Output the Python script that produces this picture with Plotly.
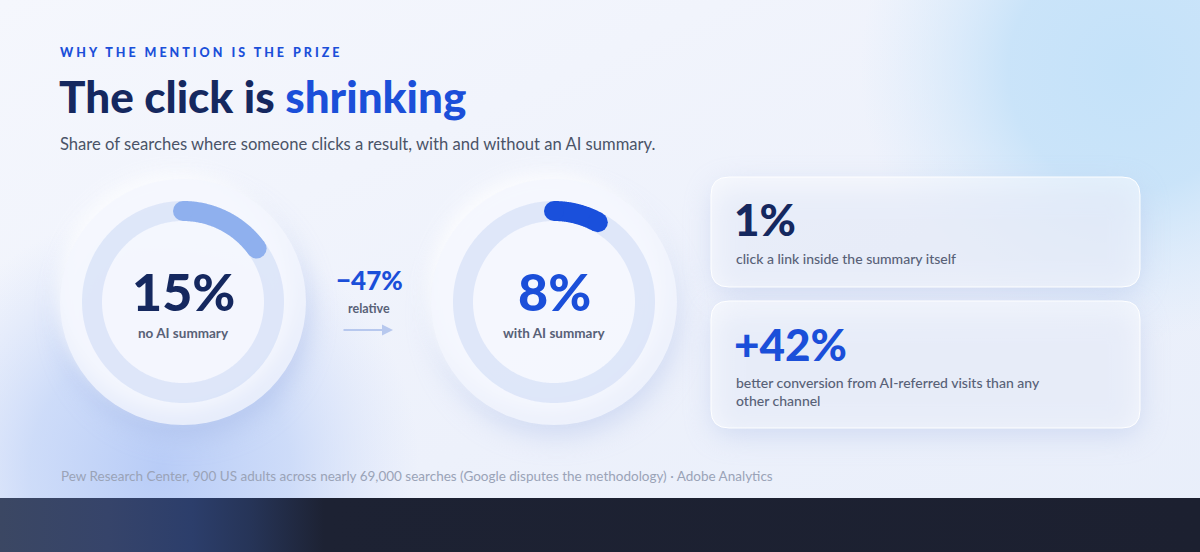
import base64
import numpy as np
import plotly.graph_objects as go

# ---------------- data ----------------
eyebrow = "WHY THE MENTION IS THE PRIZE"
title_dark = "The click is"
title_blue = "shrinking"
subtitle = "Share of searches where someone clicks a result, with and without an AI summary."
gauge_values = [15, 8]
gauge_labels = ["no AI summary", "with AI summary"]
change_text = "\u221247%"
change_label = "relative"
card_values = ["1%", "+42%"]
card_labels = ["click a link inside the summary itself",
               "better conversion from AI-referred visits than any<br>other channel"]
source = ("Pew Research Center, 900 US adults across nearly 69,000 searches "
          "(Google disputes the methodology) \u00b7 Adobe Analytics")

# ---------------- style ----------------
W, H = 1200, 552
NAVY = "#15285f"
BLUE = "#1b4fd9"
ARC_COLORS = ["#8fb0ee", "#1a50dc"]
VALUE_COLORS = [NAVY, BLUE]
CARD_VALUE_COLORS = [NAVY, BLUE]
GRAY = "#586177"
FONT = "Lato"


def px(x):
    return x / W


def py(y):
    return 1 - y / H


# ---------------- background (decorative svg) ----------------
svg = """<svg xmlns='http://www.w3.org/2000/svg' width='1200' height='552' viewBox='0 0 1200 552'>
<defs>
<linearGradient id='bg' x1='0' y1='0' x2='1' y2='1'>
<stop offset='0' stop-color='#f5f7fd'/><stop offset='0.6' stop-color='#edf1fb'/><stop offset='1' stop-color='#e8eefa'/>
</linearGradient>
<radialGradient id='tr' gradientUnits='userSpaceOnUse' cx='1130' cy='70' r='270'>
<stop offset='0' stop-color='#c4e2f9'/><stop offset='0.45' stop-color='#c8e3f9' stop-opacity='0.95'/><stop offset='1' stop-color='#d8eafb' stop-opacity='0'/>
</radialGradient>
<radialGradient id='bl' gradientUnits='userSpaceOnUse' cx='160' cy='470' r='260'>
<stop offset='0' stop-color='#b8ccf7'/><stop offset='0.5' stop-color='#c5d6f8' stop-opacity='0.8'/><stop offset='1' stop-color='#d5e0fa' stop-opacity='0'/>
</radialGradient>
<linearGradient id='band' x1='0' y1='0' x2='1' y2='0'>
<stop offset='0' stop-color='#3b4763'/><stop offset='0.09' stop-color='#36446a'/><stop offset='0.16' stop-color='#2c3e6b'/><stop offset='0.21' stop-color='#263457'/><stop offset='0.27' stop-color='#1d2233'/><stop offset='1' stop-color='#1c2030'/>
</linearGradient>
<filter id='b1' x='-50%' y='-50%' width='200%' height='200%'><feGaussianBlur stdDeviation='14'/></filter>
<filter id='b2' x='-50%' y='-50%' width='200%' height='200%'><feGaussianBlur stdDeviation='9'/></filter>
</defs>
<rect width='1200' height='552' fill='url(#bg)'/>
<rect width='1200' height='552' fill='url(#tr)'/>
<rect width='1200' height='552' fill='url(#bl)'/>
<circle cx='186' cy='314' r='122' fill='#a9bce9' opacity='0.6' filter='url(#b1)'/>
<circle cx='557' cy='314' r='122' fill='#b3c3ea' opacity='0.5' filter='url(#b1)'/>
<circle cx='176' cy='292' r='120' fill='#ffffff' opacity='0.85' filter='url(#b2)'/>
<circle cx='547' cy='292' r='120' fill='#ffffff' opacity='0.85' filter='url(#b2)'/>
<rect x='713' y='186' width='427' height='108' rx='18' fill='#b3c3e9' opacity='0.5' filter='url(#b1)'/>
<rect x='713' y='310' width='427' height='125' rx='18' fill='#b3c3e9' opacity='0.5' filter='url(#b1)'/>
<rect x='0' y='498' width='1200' height='54' fill='url(#band)'/>
</svg>"""
bg_uri = "data:image/svg+xml;base64," + base64.b64encode(svg.encode()).decode()

fig = go.Figure()

# ---------------- gauges (polar subplots) ----------------
R = 123
TRACK_R = 91
centers = [(183, 302), (554, 302)]
shapes = []
for i, (val, (cx, cy)) in enumerate(zip(gauge_values, centers)):
    pname = "polar" if i == 0 else "polar2"
    shapes.append(dict(type="circle", xref="paper", yref="paper",
                       x0=px(cx - R), x1=px(cx + R), y0=py(cy + R), y1=py(cy - R),
                       fillcolor="rgba(243,246,254,0.78)", line=dict(width=0),
                       layer="below"))
    th_full = np.linspace(0, 360, 361)
    fig.add_trace(go.Scatterpolar(r=[TRACK_R] * len(th_full), theta=th_full, mode="lines",
                                  line=dict(color="rgba(190,207,242,0.40)", width=20),
                                  hoverinfo="skip", subplot=pname))
    th = np.linspace(0, val * 3.6, 80)
    fig.add_trace(go.Scatterpolar(r=[TRACK_R] * len(th), theta=th, mode="lines",
                                  line=dict(color=ARC_COLORS[i], width=20),
                                  hoverinfo="skip", subplot=pname))
    fig.add_trace(go.Scatterpolar(r=[TRACK_R, TRACK_R], theta=[0, val * 3.6], mode="markers",
                                  marker=dict(color=ARC_COLORS[i], size=20, line=dict(width=0)),
                                  hoverinfo="skip", subplot=pname))

polar_common = dict(
    bgcolor="rgba(0,0,0,0)",
    radialaxis=dict(visible=False, range=[0, R]),
    angularaxis=dict(visible=False, rotation=90, direction="clockwise"),
)
fig.update_layout(
    polar=dict(domain=dict(x=[px(centers[0][0] - R), px(centers[0][0] + R)],
                           y=[py(centers[0][1] + R), py(centers[0][1] - R)]), **polar_common),
    polar2=dict(domain=dict(x=[px(centers[1][0] - R), px(centers[1][0] + R)],
                            y=[py(centers[1][1] + R), py(centers[1][1] - R)]), **polar_common),
)

# ---------------- cards ----------------
def rounded_rect(x0, y0, x1, y1, r):
    return (f"M {px(x0 + r)} {py(y0)} L {px(x1 - r)} {py(y0)} Q {px(x1)} {py(y0)} {px(x1)} {py(y0 + r)} "
            f"L {px(x1)} {py(y1 - r)} Q {px(x1)} {py(y1)} {px(x1 - r)} {py(y1)} "
            f"L {px(x0 + r)} {py(y1)} Q {px(x0)} {py(y1)} {px(x0)} {py(y1 - r)} "
            f"L {px(x0)} {py(y0 + r)} Q {px(x0)} {py(y0)} {px(x0 + r)} {py(y0)} Z")


cards = [(711, 177, 1140, 287), (711, 301, 1140, 428)]
for (x0, y0, x1, y1) in cards:
    shapes.append(dict(type="path", xref="paper", yref="paper",
                       path=rounded_rect(x0, y0, x1, y1, 18),
                       fillcolor="rgba(255,255,255,0.5)",
                       line=dict(color="rgba(255,255,255,0.95)", width=1), layer="below"))

# ---------------- text ----------------
annotations = []


def ann(text, x, y, size, color, weight=400, xanchor="left", yanchor="middle", family=FONT,
        align="left"):
    annotations.append(dict(text=text, x=px(x), y=py(y), xref="paper", yref="paper",
                            xanchor=xanchor, yanchor=yanchor, showarrow=False, align=align,
                            font=dict(family=family, size=size, color=color, weight=weight)))


ann(f"<span style='letter-spacing:3.0px'>{eyebrow}</span>", 58, 53, 12.5, BLUE, 900)
ann(f"{title_dark} <span style='color:{BLUE}'>{title_blue}</span>", 57, 96, 44, NAVY, 900)
ann(subtitle, 58, 144, 16.6, "#4a5367", 400)

for i, (val, lab, (cx, cy)) in enumerate(zip(gauge_values, gauge_labels, centers)):
    ann(f"{val}%", cx, cy - 11, 52, VALUE_COLORS[i], 900, xanchor="center")
    ann(lab, cx, cy + 31, 13.5, GRAY, 700, xanchor="center")

ann(change_text, 369, 280, 26, BLUE, 900, xanchor="center")
ann(change_label, 369, 308, 12.5, GRAY, 700, xanchor="center")
annotations.append(dict(text="", x=px(393), y=py(330), xref="paper", yref="paper",
                        ax=-51, ay=0, showarrow=True, arrowhead=2, arrowsize=1.1,
                        arrowwidth=2, arrowcolor="#b7c8ee"))

card_value_y = [219, 344]
card_label_y = [258, 391]
for i in range(2):
    ann(card_values[i], 732, card_value_y[i], 44, CARD_VALUE_COLORS[i], 900)
    ann(card_labels[i], 734, card_label_y[i], 14, GRAY, 500)

ann(source, 59, 476, 13.5, "#9aa3b7", 400)

fig.update_layout(
    width=W, height=H,
    margin=dict(l=0, r=0, t=0, b=0),
    paper_bgcolor="#eef2fb",
    plot_bgcolor="rgba(0,0,0,0)",
    showlegend=False,
    shapes=shapes,
    annotations=annotations,
    images=[dict(source=bg_uri, xref="paper", yref="paper", x=0, y=1, sizex=1, sizey=1,
                 xanchor="left", yanchor="top", sizing="stretch", layer="below")],
    xaxis=dict(visible=False),
    yaxis=dict(visible=False),
)

fig.write_html("out.html", config={"displayModeBar": False},
               post_script="document.body.style.margin='0';document.body.style.padding='0';")
